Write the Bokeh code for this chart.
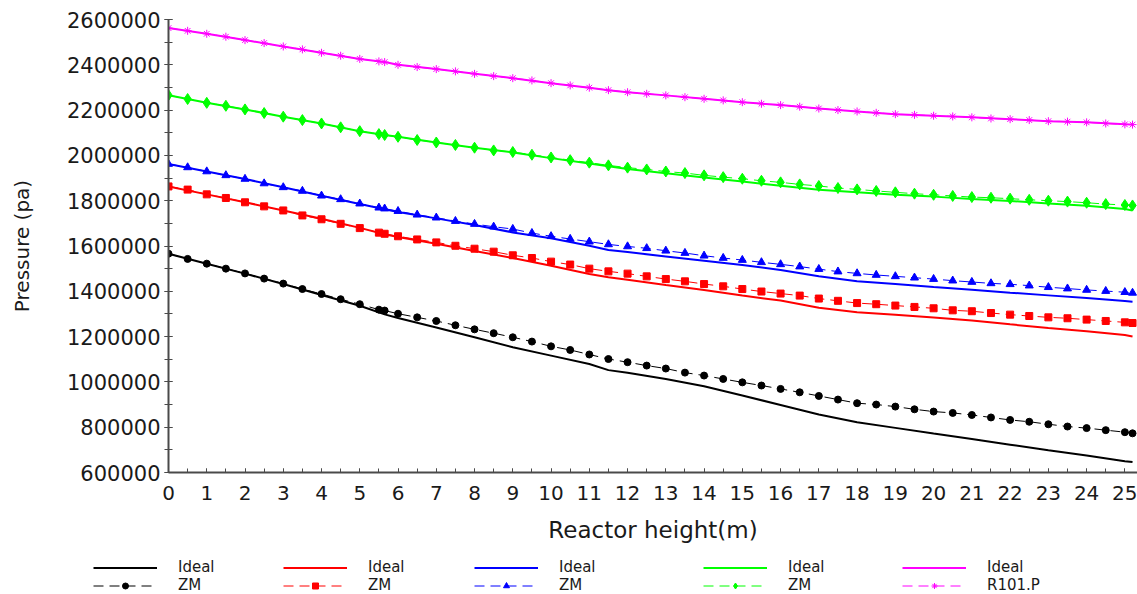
from bokeh.plotting import figure
from bokeh.models import (Range1d, SingleIntervalTicker, BasicTickFormatter,
                          Legend, LegendItem)
from bokeh.embed import file_html
from bokeh.resources import INLINE

# Reactor height (m) for the ZM profiles (one sample every 0.5 m plus bed ends)
height_zm = [0, 0.5, 1, 1.5, 2, 2.5, 3, 3.5, 4, 4.5, 5, 5.5, 5.65,
             6, 6.5, 7, 7.5, 8, 8.5, 9, 9.5, 10, 10.5, 11, 11.5, 12,
             12.5, 13, 13.5, 14, 14.5, 15, 15.5, 16, 16.5, 17, 17.5, 18,
             18.5, 19, 19.5, 20, 20.5, 21, 21.5, 22, 22.5, 23, 23.5, 24,
             24.5, 25, 25.2]

# Reactor height (m) for the ideal-gas profiles
height_ideal = [0, 1, 2, 3, 4, 5, 5.65, 6, 7, 8, 9, 10, 11, 11.5, 12, 13,
                14, 15, 16, 17, 18, 19, 20, 21, 22, 23, 24, 25, 25.2]

# Pressure (Pa), ideal-gas model
ideal_black = [1566000, 1522000, 1478000, 1432000, 1384000, 1336000, 1298000,
               1282000, 1240000, 1197000, 1153000, 1116000, 1079000, 1052000,
               1040000, 1013000, 981000, 940000, 898000, 856000, 822000,
               797000, 772000, 748000, 723000, 698000, 675000, 650000, 646000]
ideal_red = [1863000, 1828000, 1793000, 1757000, 1720000, 1680000, 1652000,
             1640000, 1610000, 1578000, 1547000, 1513000, 1476000, 1462000,
             1451000, 1428000, 1406000, 1381000, 1359000, 1327000, 1307000,
             1297000, 1284000, 1271000, 1254000, 1238000, 1224000, 1207000,
             1200000]
ideal_blue = [1962000, 1929000, 1896000, 1859000, 1822000, 1785000, 1762000,
              1750000, 1722000, 1693000, 1660000, 1634000, 1601000, 1582000,
              1573000, 1554000, 1535000, 1516000, 1494000, 1466000, 1444000,
              1432000, 1419000, 1407000, 1394000, 1382000, 1370000, 1357000,
              1354000]
ideal_green = [2266000, 2232000, 2203000, 2171000, 2141000, 2107000, 2090000,
               2082000, 2057000, 2034000, 2013000, 1988000, 1964000, 1952000,
               1940000, 1921000, 1902000, 1885000, 1866000, 1848000, 1837000,
               1826000, 1818000, 1807000, 1799000, 1788000, 1778000, 1763000,
               1757000]
ideal_magenta = [2562000, 2537000, 2509000, 2481000, 2453000, 2426000, 2412000,
                 2400000, 2381000, 2360000, 2341000, 2319000, 2299000, 2288000,
                 2279000, 2265000, 2250000, 2235000, 2222000, 2207000, 2194000,
                 2182000, 2175000, 2168000, 2160000, 2151000, 2146000, 2137000,
                 2136000]

# Pressure (Pa), ZM equation of state
zm_black = [1566000, 1543000, 1522000, 1500000, 1479000, 1456000, 1434000,
            1410000, 1388000, 1365000, 1343000, 1319000, 1315000,
            1301000, 1285000, 1269000, 1250000, 1232000, 1215000,
            1197000, 1178000, 1157000, 1141000, 1121000, 1101000, 1087000,
            1072000, 1059000, 1041000, 1028000, 1013000, 998000, 984000,
            969000, 954000, 938000,
            922000, 906000, 900000, 891000, 879000, 869000, 863000, 854000,
            843000, 832000, 824000, 813000, 803000, 796000, 787000, 778000,
            773000]
zm_red = [1863000, 1849000, 1828000, 1812000, 1793000, 1775000, 1757000,
          1735000, 1718000, 1698000, 1679000, 1659000, 1654000,
          1643000, 1629000, 1616000, 1601000, 1588000, 1575000,
          1559000, 1547000, 1531000, 1518000, 1500000, 1488000, 1478000,
          1466000, 1454000, 1444000, 1432000, 1422000, 1410000, 1399000,
          1390000, 1381000, 1368000,
          1358000, 1348000, 1343000, 1337000, 1331000, 1325000, 1316000,
          1312000, 1304000, 1297000, 1291000, 1285000, 1281000, 1275000,
          1269000, 1263000, 1260000]
zm_blue = [1962000, 1947000, 1929000, 1912000, 1896000, 1876000, 1859000,
           1843000, 1822000, 1806000, 1787000, 1769000, 1765000,
           1754000, 1738000, 1725000, 1710000, 1697000, 1685000,
           1675000, 1657000, 1643000, 1631000, 1619000, 1607000, 1598000,
           1590000, 1579000, 1569000, 1557000, 1547000, 1538000, 1528000,
           1519000, 1509000, 1498000,
           1487000, 1479000, 1472000, 1466000, 1460000, 1454000, 1447000,
           1441000, 1435000, 1431000, 1425000, 1418000, 1412000, 1406000,
           1401000, 1396000, 1393000]
zm_green = [2266000, 2249000, 2232000, 2219000, 2203000, 2187000, 2171000,
            2156000, 2141000, 2124000, 2107000, 2094000, 2090000,
            2082000, 2068000, 2057000, 2046000, 2034000, 2022000,
            2015000, 2003000, 1991000, 1979000, 1968000, 1956000, 1946000,
            1938000, 1929000, 1922000, 1912000, 1904000, 1897000, 1888000,
            1881000, 1872000, 1865000,
            1856000, 1850000, 1843000, 1837000, 1831000, 1826000, 1821000,
            1816000, 1813000, 1809000, 1804000, 1800000, 1796000, 1791000,
            1785000, 1781000, 1779000]
r101_p = [2562000, 2550000, 2537000, 2524000, 2509000, 2496000, 2481000,
          2468000, 2453000, 2440000, 2426000, 2415000, 2412000,
          2400000, 2390000, 2381000, 2371000, 2360000, 2350000,
          2341000, 2331000, 2319000, 2309000, 2299000, 2288000, 2279000,
          2272000, 2265000, 2257000, 2250000, 2243000, 2235000, 2228000,
          2222000, 2215000, 2207000,
          2200000, 2194000, 2188000, 2182000, 2179000, 2175000, 2172000,
          2168000, 2163000, 2160000, 2156000, 2151000, 2149000, 2146000,
          2141000, 2137000, 2136000]

series = [
    # (ideal, second curve, colour, marker, marker size, second label)
    (ideal_black, zm_black, "#000000", "circle", 7, "ZM"),
    (ideal_red, zm_red, "#ff0000", "square", 7, "ZM"),
    (ideal_blue, zm_blue, "#0000ff", "triangle", 8, "ZM"),
    (ideal_green, zm_green, "#00ff00", "diamond", 11, "ZM"),
    (ideal_magenta, r101_p, "#ff00ff", "asterisk", 8, "R101.P"),
]

FONT = "DejaVu Sans"
TEXT = "#1a1a1a"
AXIS = "#4a4a4a"
DASH = "10 6"

p = figure(width=1137, height=545, output_backend="svg", toolbar_location=None,
           x_range=Range1d(0, 25.33), y_range=Range1d(600000, 2600000),
           min_border_left=168, min_border_right=0, min_border_top=19,
           min_border_bottom=68)
p.outline_line_color = None
p.grid.visible = False
p.background_fill_color = "white"
p.border_fill_color = "white"

# axes
p.xaxis.ticker = SingleIntervalTicker(interval=1, num_minor_ticks=2)
p.yaxis.ticker = SingleIntervalTicker(interval=200000, num_minor_ticks=2)
p.yaxis.formatter = BasicTickFormatter(use_scientific=False)
p.xaxis.axis_label = "Reactor height(m)"
p.yaxis.axis_label = "Pressure (pa)"
for ax in (p.xaxis[0], p.yaxis[0]):
    ax.axis_line_color = AXIS
    ax.axis_line_width = 2
    ax.major_tick_line_color = AXIS
    ax.minor_tick_line_color = AXIS
    ax.major_tick_line_width = 1
    ax.minor_tick_line_width = 1
    ax.major_label_text_font = FONT
    ax.major_label_text_color = TEXT
    ax.axis_label_text_font = FONT
    ax.axis_label_text_color = TEXT
    ax.axis_label_text_font_style = "normal"

p.xaxis.major_tick_in = 4
p.xaxis.major_tick_out = 0
p.xaxis.minor_tick_in = 4
p.xaxis.minor_tick_out = 0
p.xaxis.major_label_text_font_size = "20px"
p.xaxis.major_label_standoff = 13
p.xaxis.axis_label_text_font_size = "23px"
p.xaxis.axis_label_standoff = 14

p.yaxis.major_tick_in = 4
p.yaxis.major_tick_out = 4
p.yaxis.minor_tick_in = 4
p.yaxis.minor_tick_out = 4
p.yaxis.major_label_text_font_size = "21px"
p.yaxis.major_label_standoff = 4
p.yaxis.axis_label_text_font_size = "20px"
p.yaxis.axis_label_standoff = 30

# curves
for ideal, other, colour, marker, msize, label in series:
    p.line(height_ideal, ideal, line_color=colour, line_width=2)
    p.line(height_zm, other, line_color=colour, line_width=1, line_dash=DASH)
    p.scatter(height_zm, other, marker=marker, size=msize,
              line_color=colour, fill_color=colour)

# legend strip under the chart: one two-row block per colour.
# The key renderers carry the same series, but the strip's ranges keep
# them out of view so that only the legend samples show.
key = figure(width=1137, height=49, output_backend="svg", toolbar_location=None,
             x_axis_location=None, y_axis_location=None, min_border=0,
             x_range=Range1d(-2, -1), y_range=Range1d(-2, -1))
key.outline_line_color = None
key.grid.visible = False
key.border_fill_color = "white"

legend_x = [93, 283, 474, 703, 902]
for (ideal, other, colour, marker, msize, label), lx in zip(series, legend_x):
    k_ideal = key.line(height_ideal, ideal, line_color=colour, line_width=2)
    k_line = key.line(height_zm, other, line_color=colour, line_width=1,
                      line_dash=DASH)
    k_mark = key.scatter(height_zm, other, marker=marker, size=msize,
                         line_color=colour, fill_color=colour)
    leg = Legend(items=[LegendItem(label="Ideal", renderers=[k_ideal]),
                        LegendItem(label=label, renderers=[k_line, k_mark])],
                 location=(lx, 0), orientation="vertical",
                 spacing=-8, padding=0, margin=0,
                 glyph_width=64, glyph_height=15, label_height=15,
                 label_standoff=21,
                 label_text_font=FONT, label_text_font_size="15px",
                 label_text_color=TEXT,
                 border_line_alpha=0, background_fill_alpha=0)
    key.add_layout(leg)

open("out.html", "w").write(file_html([p, key], INLINE))
